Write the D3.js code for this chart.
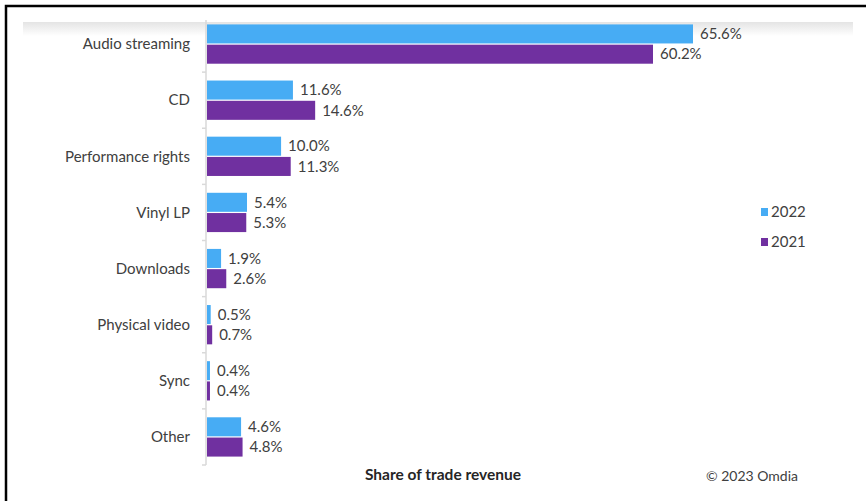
<!DOCTYPE html>
<html><head><meta charset="utf-8">
<script src="https://cdn.jsdelivr.net/npm/d3@7"></script>
<style>body{margin:0;background:#fff}svg{display:block}</style>
</head><body>
<svg id="c" width="866" height="501"></svg>
<script>
const categories = ["Audio streaming","CD","Performance rights","Vinyl LP","Downloads","Physical video","Sync","Other"];
const values2022 = [65.6, 11.6, 10.0, 5.4, 1.9, 0.5, 0.4, 4.6];
const values2021 = [60.2, 14.6, 11.3, 5.3, 2.6, 0.7, 0.4, 4.8];
const seriesNames = ["2022","2021"];
const colors = ["#47acf4","#7030a0"];

const svg = d3.select("#c");
const font = "Lato, 'Open Sans', sans-serif";
const textColor = "#404040";

// gradient band at top
const defs = svg.append("defs");
const g = defs.append("linearGradient").attr("id","band").attr("x1",0).attr("y1",0).attr("x2",0).attr("y2",1);
g.append("stop").attr("offset","0%").attr("stop-color","#e4e4e4");
g.append("stop").attr("offset","100%").attr("stop-color","#ffffff");
svg.append("rect").attr("x",23).attr("y",22).attr("width",830).attr("height",14).attr("fill","url(#band)");

// frame
svg.append("path").attr("d","M6,501 V6 H866").attr("fill","none").attr("stroke","#000").attr("stroke-width",2.5);

const x0 = 207;
const x = d3.scaleLinear().domain([0, 65.6]).range([x0, 693]);
const y = d3.scaleBand().domain(categories).range([16, 465]).paddingInner(0.3).paddingOuter(0.15);
const ySub = d3.scaleBand().domain(seriesNames).range([0, y.bandwidth()]).paddingInner(0.06);

// axis line
svg.append("line").attr("x1",206).attr("x2",206).attr("y1",20).attr("y2",465).attr("stroke","#d9d9d9").attr("stroke-width",1.5);
// ticks between categories
const step = y.step();
const bounds = categories.map((c,i)=> 16 + (i+1)*(449/categories.length));
svg.selectAll(".tk").data(bounds).enter().append("line")
  .attr("x1",202).attr("x2",206).attr("y1",d=>d).attr("y2",d=>d)
  .attr("stroke","#d9d9d9").attr("stroke-width",1.5);

// category labels
svg.selectAll(".cat").data(categories).enter().append("text")
  .attr("x",190).attr("y",d=>y(d)+y.bandwidth()/2).attr("dy","0.35em")
  .attr("text-anchor","end").attr("font-family",font).attr("font-size",15)
  .attr("fill",textColor).text(d=>d);

const series = [values2022, values2021];
series.forEach((vals, si) => {
  const name = seriesNames[si];
  svg.selectAll(".b"+si).data(categories).enter().append("rect")
    .attr("x", x(0)).attr("y", d=>y(d)+ySub(name))
    .attr("width", (d,i)=>x(vals[i])-x(0)).attr("height", ySub.bandwidth())
    .attr("fill", colors[si]);
  svg.selectAll(".l"+si).data(categories).enter().append("text")
    .attr("x",(d,i)=>x(vals[i])+7).attr("y", d=>y(d)+ySub(name)+ySub.bandwidth()/2).attr("dy","0.35em")
    .attr("font-family",font).attr("font-size",15).attr("fill",textColor)
    .text((d,i)=>vals[i].toFixed(1)+"%");
});

// legend
const lg = svg.append("g");
seriesNames.forEach((n,i)=>{
  const yy = 212 + i*30;
  lg.append("rect").attr("x",761).attr("y",yy-4).attr("width",7).attr("height",8).attr("fill",colors[i]);
  lg.append("text").attr("x",771).attr("y",yy).attr("dy","0.35em").attr("font-family",font)
    .attr("font-size",15).attr("fill",textColor).text(n);
});

// axis title & credit
svg.append("text").attr("x",443).attr("y",475).attr("dy","0.35em").attr("text-anchor","middle")
  .attr("font-family",font).attr("font-size",15.5).attr("font-weight","bold").attr("fill","#262626")
  .text("Share of trade revenue");
svg.append("text").attr("x",752).attr("y",476).attr("dy","0.35em").attr("text-anchor","middle")
  .attr("font-family",font).attr("font-size",14).attr("fill",textColor).text("© 2023 Omdia");
</script>
</body></html>
